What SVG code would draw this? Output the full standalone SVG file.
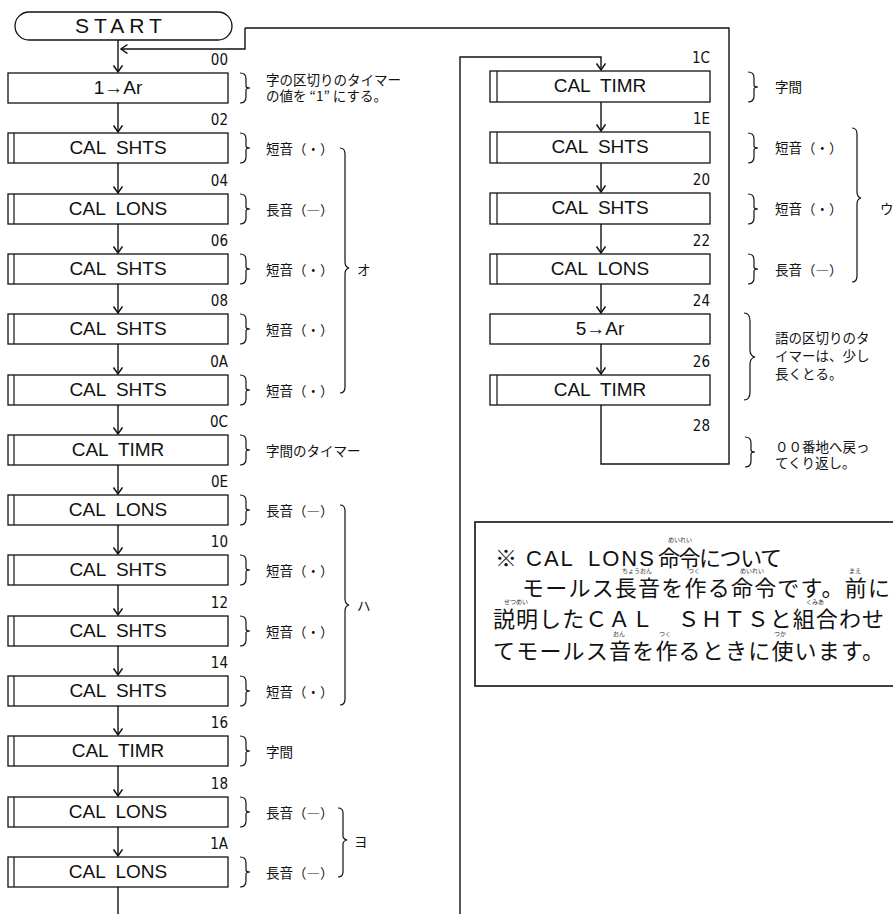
<svg xmlns="http://www.w3.org/2000/svg" xmlns:xlink="http://www.w3.org/1999/xlink" width="893" height="914" viewBox="0 0 893 914">
<style>
.bx{fill:#fff;stroke:#111;stroke-width:1.3}
.bar{stroke:#111;stroke-width:1.2}
.bt{font-family:"Liberation Sans",Arial,sans-serif;font-size:19px;word-spacing:5px;text-anchor:middle;fill:#111}
.ad{font-family:"Liberation Sans Narrow","DejaVu Sans Condensed","Liberation Sans",sans-serif;font-size:15px;text-anchor:end;fill:#111}
.cm{font-family:"Noto Sans CJK JP","Noto Sans CJK SC",sans-serif;font-size:13.5px;fill:#111}
.br{fill:none;stroke:#111;stroke-width:1.2}
.ln{fill:none;stroke:#111;stroke-width:1.4}
.jp{font-family:"Noto Sans CJK JP","Noto Sans CJK SC",sans-serif;font-size:22px;fill:#111}
.lat{font-family:"Liberation Sans",Arial,sans-serif;font-size:22px;letter-spacing:2px}
.rb{font-family:"Noto Sans CJK JP","Noto Sans CJK SC",sans-serif;font-size:6px;fill:#333;text-anchor:middle}
</style>
<defs>
<marker id="ah" markerWidth="12" markerHeight="12" refX="10" refY="5" orient="auto" markerUnits="userSpaceOnUse"><path d="M3.5,0.5 L10,5 L3.5,9.5" fill="none" stroke="#111" stroke-width="1.5"/></marker>
<path id="brace" d="M0,1 q6,0 6,6 v7 q0,2 4,2 q-4,0 -4,2 v7 q0,6 -6,6" class="br"/>
</defs>

<g id="connectors">
<path class="ln" d="M118,40 V72" marker-end="url(#ah)"/>
<path class="ln" d="M245,28 V49 H121" marker-end="url(#ah)"/>
<path class="ln" d="M118,103 V132" marker-end="url(#ah)"/>
<path class="ln" d="M118,163 V193" marker-end="url(#ah)"/>
<path class="ln" d="M118,224 V253" marker-end="url(#ah)"/>
<path class="ln" d="M118,284 V313" marker-end="url(#ah)"/>
<path class="ln" d="M118,344 V374" marker-end="url(#ah)"/>
<path class="ln" d="M118,405 V434" marker-end="url(#ah)"/>
<path class="ln" d="M118,465 V494" marker-end="url(#ah)"/>
<path class="ln" d="M118,525 V554" marker-end="url(#ah)"/>
<path class="ln" d="M118,585 V615" marker-end="url(#ah)"/>
<path class="ln" d="M118,646 V675" marker-end="url(#ah)"/>
<path class="ln" d="M118,706 V735" marker-end="url(#ah)"/>
<path class="ln" d="M118,766 V796" marker-end="url(#ah)"/>
<path class="ln" d="M118,827 V856" marker-end="url(#ah)"/>
<path class="ln" d="M118,887 V914"/>
<path class="ln" d="M460,914 V57 H601 V70" marker-end="url(#ah)"/>
<path class="ln" d="M601,102 V131" marker-end="url(#ah)"/>
<path class="ln" d="M601,163 V192" marker-end="url(#ah)"/>
<path class="ln" d="M601,224 V253" marker-end="url(#ah)"/>
<path class="ln" d="M601,284 V313" marker-end="url(#ah)"/>
<path class="ln" d="M601,344 V374" marker-end="url(#ah)"/>
<path class="ln" d="M601,405 V464 H729 V28 H245"/>
</g>

<g id="start">
<rect x="15" y="12" width="217" height="28" rx="14" ry="14" class="bx"/>
<text x="121" y="33" style="font-family:'Liberation Sans',Arial,sans-serif;font-size:21px;letter-spacing:5px;fill:#111;text-anchor:middle">START</text>
</g>

<g id="n00"><rect x="8" y="73" width="220" height="30" class="bx"/><text x="118" y="94" class="bt">1→Ar</text><text x="228" y="65" class="ad">00</text><use xlink:href="#brace" x="240" y="72"/><text x="266" y="85" class="cm">字の区切りのタイマー</text><text x="266" y="101" class="cm">の値を “1” にする。</text></g>
<g id="n02"><rect x="8" y="133" width="220" height="30" class="bx"/><line x1="14" y1="133" x2="14" y2="163" class="bar"/><text x="118" y="154" class="bt">CAL SHTS</text><text x="228" y="125" class="ad">02</text><use xlink:href="#brace" x="240" y="132"/><text x="266" y="154" class="cm">短音（・）</text></g>
<g id="n04"><rect x="8" y="194" width="220" height="30" class="bx"/><line x1="14" y1="194" x2="14" y2="224" class="bar"/><text x="118" y="215" class="bt">CAL LONS</text><text x="228" y="186" class="ad">04</text><use xlink:href="#brace" x="240" y="193"/><text x="266" y="215" class="cm">長音（―）</text></g>
<g id="n06"><rect x="8" y="254" width="220" height="30" class="bx"/><line x1="14" y1="254" x2="14" y2="284" class="bar"/><text x="118" y="275" class="bt">CAL SHTS</text><text x="228" y="246" class="ad">06</text><use xlink:href="#brace" x="240" y="253"/><text x="266" y="275" class="cm">短音（・）</text></g>
<g id="n08"><rect x="8" y="314" width="220" height="30" class="bx"/><line x1="14" y1="314" x2="14" y2="344" class="bar"/><text x="118" y="335" class="bt">CAL SHTS</text><text x="228" y="306" class="ad">08</text><use xlink:href="#brace" x="240" y="313"/><text x="266" y="335" class="cm">短音（・）</text></g>
<g id="n0A"><rect x="8" y="375" width="220" height="30" class="bx"/><line x1="14" y1="375" x2="14" y2="405" class="bar"/><text x="118" y="396" class="bt">CAL SHTS</text><text x="228" y="367" class="ad">0A</text><use xlink:href="#brace" x="240" y="374"/><text x="266" y="396" class="cm">短音（・）</text></g>
<g id="n0C"><rect x="8" y="435" width="220" height="30" class="bx"/><line x1="14" y1="435" x2="14" y2="465" class="bar"/><text x="118" y="456" class="bt">CAL TIMR</text><text x="228" y="427" class="ad">0C</text><use xlink:href="#brace" x="240" y="434"/><text x="266" y="456" class="cm">字間のタイマー</text></g>
<g id="n0E"><rect x="8" y="495" width="220" height="30" class="bx"/><line x1="14" y1="495" x2="14" y2="525" class="bar"/><text x="118" y="516" class="bt">CAL LONS</text><text x="228" y="487" class="ad">0E</text><use xlink:href="#brace" x="240" y="494"/><text x="266" y="516" class="cm">長音（―）</text></g>
<g id="n10"><rect x="8" y="555" width="220" height="30" class="bx"/><line x1="14" y1="555" x2="14" y2="585" class="bar"/><text x="118" y="576" class="bt">CAL SHTS</text><text x="228" y="547" class="ad">10</text><use xlink:href="#brace" x="240" y="554"/><text x="266" y="576" class="cm">短音（・）</text></g>
<g id="n12"><rect x="8" y="616" width="220" height="30" class="bx"/><line x1="14" y1="616" x2="14" y2="646" class="bar"/><text x="118" y="637" class="bt">CAL SHTS</text><text x="228" y="608" class="ad">12</text><use xlink:href="#brace" x="240" y="615"/><text x="266" y="637" class="cm">短音（・）</text></g>
<g id="n14"><rect x="8" y="676" width="220" height="30" class="bx"/><line x1="14" y1="676" x2="14" y2="706" class="bar"/><text x="118" y="697" class="bt">CAL SHTS</text><text x="228" y="668" class="ad">14</text><use xlink:href="#brace" x="240" y="675"/><text x="266" y="697" class="cm">短音（・）</text></g>
<g id="n16"><rect x="8" y="736" width="220" height="30" class="bx"/><line x1="14" y1="736" x2="14" y2="766" class="bar"/><text x="118" y="757" class="bt">CAL TIMR</text><text x="228" y="728" class="ad">16</text><use xlink:href="#brace" x="240" y="735"/><text x="266" y="757" class="cm">字間</text></g>
<g id="n18"><rect x="8" y="797" width="220" height="30" class="bx"/><line x1="14" y1="797" x2="14" y2="827" class="bar"/><text x="118" y="818" class="bt">CAL LONS</text><text x="228" y="789" class="ad">18</text><use xlink:href="#brace" x="240" y="796"/><text x="266" y="818" class="cm">長音（―）</text></g>
<g id="n1A"><rect x="8" y="857" width="220" height="30" class="bx"/><line x1="14" y1="857" x2="14" y2="887" class="bar"/><text x="118" y="878" class="bt">CAL LONS</text><text x="228" y="849" class="ad">1A</text><use xlink:href="#brace" x="240" y="856"/><text x="266" y="878" class="cm">長音（―）</text></g>

<g id="group-o"><path class="br" d="M340,148 q5,0 5,6 V262 q0,5 4,6 q-4,1 -4,6 V387 q0,6 -5,6"/><text x="357" y="275" class="cm">オ</text></g>
<g id="group-ha"><path class="br" d="M340,505 q5,0 5,6 V599 q0,5 4,6 q-4,1 -4,6 V699 q0,6 -5,6"/><text x="357" y="611" class="cm">ハ</text></g>
<g id="group-yo"><path class="br" d="M338,808 q5,0 5,5 V836 q0,3 4,4 q-4,1 -4,4 V872 q0,5 -5,5"/><text x="354" y="847" class="cm">ヨ</text></g>

<g id="n1C"><rect x="490" y="71" width="220" height="31" class="bx"/><line x1="497" y1="71" x2="497" y2="102" class="bar"/><text x="600" y="92" class="bt">CAL TIMR</text><text x="710" y="63" class="ad">1C</text><use xlink:href="#brace" x="748" y="71"/><text x="775" y="92" class="cm">字間</text></g>
<g id="n1E"><rect x="490" y="132" width="220" height="31" class="bx"/><line x1="497" y1="132" x2="497" y2="163" class="bar"/><text x="600" y="153" class="bt">CAL SHTS</text><text x="710" y="124" class="ad">1E</text><use xlink:href="#brace" x="748" y="132"/><text x="775" y="153" class="cm">短音（・）</text></g>
<g id="n20"><rect x="490" y="193" width="220" height="31" class="bx"/><line x1="497" y1="193" x2="497" y2="224" class="bar"/><text x="600" y="214" class="bt">CAL SHTS</text><text x="710" y="185" class="ad">20</text><use xlink:href="#brace" x="748" y="193"/><text x="775" y="214" class="cm">短音（・）</text></g>
<g id="n22"><rect x="490" y="254" width="220" height="30" class="bx"/><line x1="497" y1="254" x2="497" y2="284" class="bar"/><text x="600" y="275" class="bt">CAL LONS</text><text x="710" y="246" class="ad">22</text><use xlink:href="#brace" x="748" y="253"/><text x="775" y="275" class="cm">長音（―）</text></g>
<g id="n24"><rect x="490" y="314" width="220" height="30" class="bx"/><text x="600" y="335" class="bt">5→Ar</text><text x="710" y="306" class="ad">24</text></g>
<g id="n26"><rect x="490" y="375" width="220" height="30" class="bx"/><line x1="497" y1="375" x2="497" y2="405" class="bar"/><text x="600" y="396" class="bt">CAL TIMR</text><text x="710" y="367" class="ad">26</text></g>
<g id="n28"><text x="710" y="431" class="ad">28</text><use xlink:href="#brace" x="745" y="436"/><text x="775" y="452" class="cm">００番地へ戻っ</text><text x="775" y="468" class="cm">てくり返し。</text></g>
<g id="note-24-26"><path class="br" d="M744,313 q6,0 6,8 V350 q0,6 5,7 q-5,1 -5,7 V392 q0,8 -6,8"/><text x="775" y="343" class="cm">語の区切りのタ</text><text x="775" y="361" class="cm">イマーは、少し</text><text x="775" y="379" class="cm">長くとる。</text></g>
<g id="group-u"><path class="br" d="M852,128 q5,0 5,6 V192 q0,5 4,6 q-4,1 -4,6 V276 q0,6 -5,6"/><text x="880" y="214" class="cm">ウ</text></g>

<g id="note">
<rect x="475" y="522" width="430" height="164" fill="none" stroke="#111" stroke-width="1.6"/>
<text x="495" y="566" class="jp">※<tspan x="526" class="lat">CAL</tspan><tspan x="588" class="lat">LONS</tspan><tspan x="658" textLength="124" lengthAdjust="spacing">命令について</tspan></text>
<text x="680" y="542" class="rb">めいれい</text>
<text x="522" y="596" class="jp" textLength="368" lengthAdjust="spacing">モールス長音を作る命令です。前に</text>
<text x="637" y="573" class="rb">ちょうおん</text><text x="694" y="573" class="rb">つく</text><text x="752" y="573" class="rb">めいれい</text><text x="855" y="573" class="rb">まえ</text>
<text x="493" y="627" class="jp" textLength="391" lengthAdjust="spacing">説明したＣＡＬ　ＳＨＴＳと組合わせ</text>
<text x="516" y="604" class="rb">せつめい</text><text x="815" y="604" class="rb">くみあ</text>
<text x="493" y="659" class="jp" textLength="391" lengthAdjust="spacing">てモールス音を作るときに使います。</text>
<text x="619" y="636" class="rb">おん</text><text x="665" y="636" class="rb">つく</text><text x="780" y="636" class="rb">つか</text>
</g>
</svg>
